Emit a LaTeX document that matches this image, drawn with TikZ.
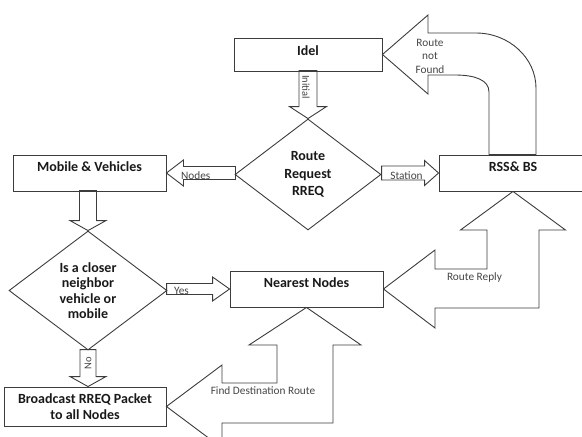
\documentclass[tikz,border=0pt]{standalone}
\usepackage{fontspec}
\setmainfont{Carlito}
\usetikzlibrary{shapes.geometric,calc}
\definecolor{ln}{HTML}{3C3C3C}
\definecolor{lbl}{HTML}{454545}
\begin{document}
\begin{tikzpicture}[x=1pt,y=-1pt,
  box/.style={draw=ln,line width=0.9pt,rectangle,inner sep=0pt,font=\fontsize{14}{17}\selectfont\bfseries,text=black!90},
  raised/.style={text height=9pt,text depth=12pt},
  dia/.style={draw=ln,line width=0.9pt,diamond,inner sep=0pt,font=\fontsize{14}{17.5}\selectfont\bfseries,align=center,text=black!90},
  blk/.style={draw=ln,line width=0.9pt,line join=miter},
  lab/.style={font=\fontsize{11.3}{13.5}\selectfont,text=lbl,inner sep=0pt,align=center},
  rlab/.style={font=\fontsize{10.5}{12}\selectfont,text=lbl,inner sep=0pt},
]
\useasboundingbox (0,0) rectangle (582,437);
\clip (0,0) rectangle (582,437);

% boxes
\node[box,minimum width=148pt,minimum height=33pt,text height=9pt,text depth=6.6pt] (idel) at (308,54.5) {Idel};
\node[box,raised,minimum width=153pt,minimum height=36pt] (mob) at (89.5,173) {Mobile \& Vehicles};
\node[box,raised,minimum width=148pt,minimum height=36pt] (rss) at (513,173) {RSS\& BS};
\node[box,raised,minimum width=153pt,minimum height=36pt] (near) at (306.5,289) {Nearest Nodes};
\node[box,minimum width=162pt,minimum height=39pt,align=center,font=\fontsize{14}{16}\selectfont\bfseries] (bc) at (85,406.5) {Broadcast RREQ Packet\\to all Nodes};

% decisions
\node[dia,minimum width=146pt,minimum height=111pt] (rr) at (308,174.5) {Route\\Request\\RREQ};
\node[dia,minimum width=158pt,minimum height=119pt,font=\fontsize{14}{15.5}\selectfont\bfseries] (cl) at (88,290.5) {Is a closer\\neighbor\\vehicle or\\mobile};

% straight block arrows
\draw[blk] (rr.north) -- ++(-18.5,-12) -- ++(9.5,0) -- ++(0,-36) -- ++(18,0) -- ++(0,36) -- ++(9.5,0) -- cycle;
\draw[blk] (cl.north) -- ++(-18,-10) -- ++(9.5,0) -- ++(0,-30) -- ++(17,0) -- ++(0,30) -- ++(9.5,0) -- cycle;
\draw[blk] (cl.south |- bc.north) -- ++(-18,-10) -- ++(10,0) -- ++(0,-27) -- ++(16,0) -- ++(0,27) -- ++(10,0) -- cycle;
\draw[blk] (mob.east) -- ++(17,-13) -- ++(0,6.5) -- ++(52,0) -- ++(0,13) -- ++(-52,0) -- ++(0,6.5) -- cycle;
\draw[blk] (rss.west) -- ++(-14,-12.5) -- ++(0,5.5) -- ++(-43,0) -- ++(0,14) -- ++(43,0) -- ++(0,5.5) -- cycle;
\draw[blk] (near.west) -- ++(-17,-12) -- ++(0,6.5) -- ++(-46,0) -- ++(0,11) -- ++(46,0) -- ++(0,6.5) -- cycle;

% route not found (curved)
\draw[blk] (idel.east) -- (428,15) -- (428,33) -- (476,33) .. controls (509,33) and (536,58) .. (536,88)
  -- ($(rss.north)+(23,0)$) -- ($(rss.north)+(-24,0)$) -- (489,92) .. controls (489,80) and (475,75) .. (455,75)
  -- (428,75) -- (428,94) -- cycle;

% route reply
\draw[blk] (near.east) -- (435,250) -- (435,269) -- (487,269) -- (487,230) -- (460.5,230) -- (rss.south)
  -- (565.5,230) -- (539,230) -- (539,308) -- (435,308) -- (435,328) -- cycle;

% find destination route
\draw[blk] (bc.east) -- (222,365) -- (222,383) -- (277,383) -- (277,345) -- (249,345) -- (near.south)
  -- (361,345) -- (333,345) -- (333,423) -- (222,423) -- (222,448) -- cycle;

% labels
\node[rlab,rotate=-90] (tinit) at (306,87) {Initial};
\node[rlab,rotate=90] (tno) at (88,363) {No};
\node[lab] (tnodes) at (195.7,175.7) {Nodes};
\node[lab] (tstation) at (406.5,175.7) {Station};
\node[lab] (tyes) at (181.5,291) {Yes};
\node[lab] (tnf) at (430,56) {Route\\not\\Found};
\node[lab] (trr) at (474.5,277) {Route Reply};
\node[lab] (tfdr) at (263,391) {Find Destination Route};
\end{tikzpicture}
\end{document}
